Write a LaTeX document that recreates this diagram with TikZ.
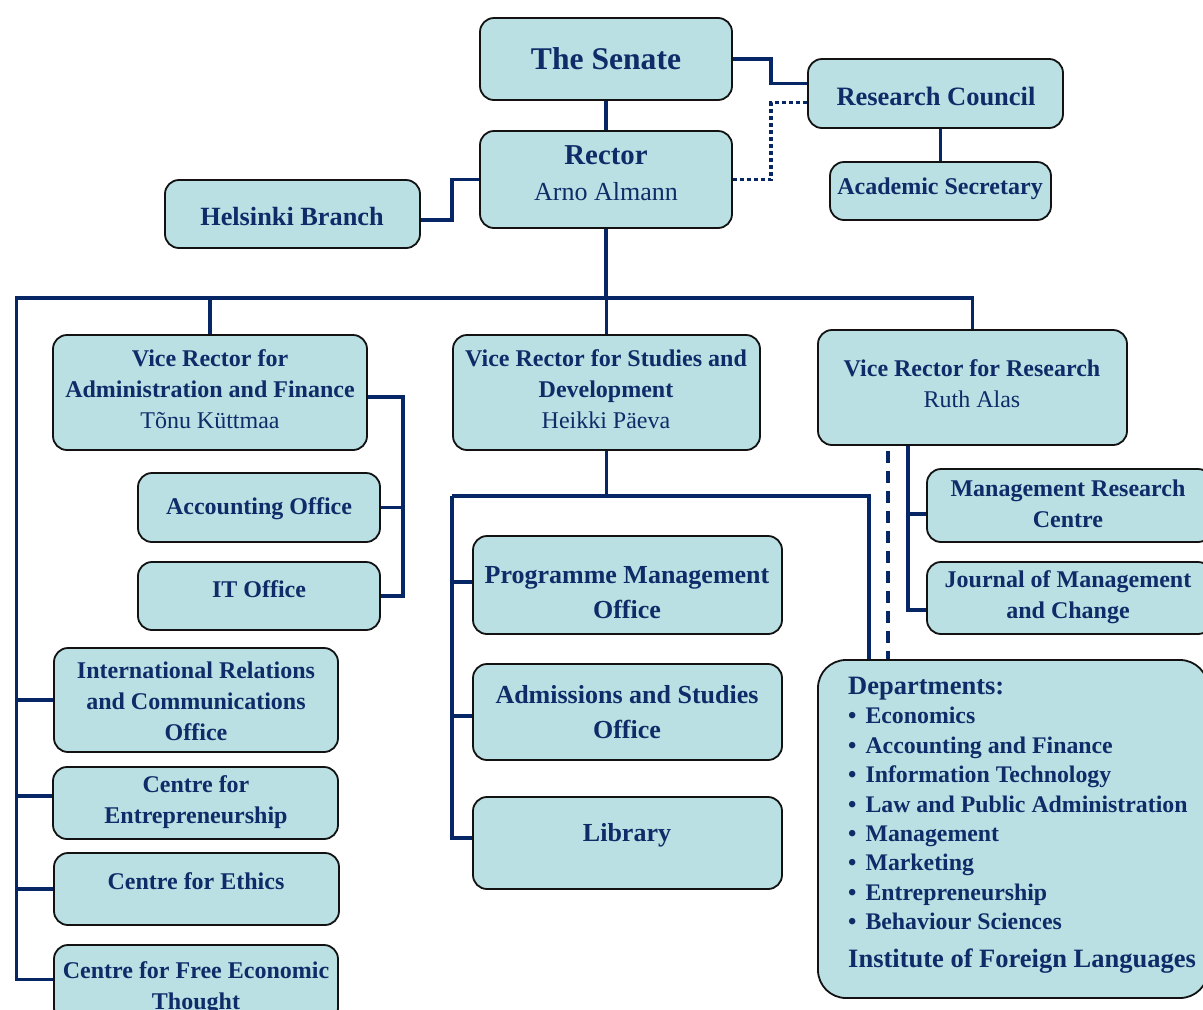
\documentclass[tikz,border=0pt]{standalone}
\usepackage{fontspec}
\setmainfont{Liberation Serif}
\usetikzlibrary{fit}
\definecolor{boxfill}{HTML}{BAE0E3}
\definecolor{navy}{HTML}{072666}
\definecolor{txtc}{HTML}{0F2B68}
\definecolor{edgec}{HTML}{121212}
\newcommand{\orgbox}[5]{\node[box, fit={(#2,#3) (#4,#5)}] (#1) {};}
\newcommand{\blt}{\textbullet\hspace{9pt}}
\begin{document}
\begin{tikzpicture}[x=1pt,y=-1pt,
  box/.style={draw=edgec, line width=1.8pt, fill=boxfill, rounded corners=14pt, inner sep=0pt},
  conn/.style={draw=navy, line width=3.8pt},
  dotconn/.style={conn, line width=3.4pt, dash pattern=on 4pt off 3pt},
  dashconn/.style={conn, dash pattern=on 12pt off 8pt},
  lbl/.style={text=txtc, align=center, inner sep=0pt, font=\fontsize{24}{31}\selectfont\bfseries},
  lblbig/.style={lbl, font=\fontsize{26}{35}\selectfont\bfseries},
]
\fill[white] (0,0) rectangle (1203,1010);
\useasboundingbox (0,0) rectangle (1203,1010);

% boxes
\orgbox{senate}{480}{18}{732}{100}
\orgbox{rc}{808}{59}{1063}{128}
\orgbox{rector}{480}{131}{732}{228}
\orgbox{acs}{830}{162}{1051}{220}
\orgbox{hel}{165}{180}{420}{248}
\orgbox{vra}{53}{335}{367}{450}
\orgbox{vrs}{453}{335}{760}{450}
\orgbox{vrr}{818}{330}{1127}{445}
\orgbox{acc}{138}{473}{380}{542}
\orgbox{it}{138}{562}{380}{630}
\orgbox{intl}{54}{648}{338}{752}
\orgbox{cent}{53}{767}{338}{839}
\orgbox{eth}{54}{853}{339}{925}
\orgbox{cfet}{54}{945}{338}{1022}
\orgbox{pmo}{473}{536}{782}{634}
\orgbox{adm}{473}{664}{782}{760}
\orgbox{lib}{473}{797}{782}{889}
\orgbox{mrc}{927}{469}{1212}{542}
\orgbox{jmc}{927}{562}{1212}{634}
\node[box, rounded corners=28pt, fit={(818,660) (1208,998)}] (dept) {};

% texts
\node[lbl, font=\fontsize{31.6}{36}\selectfont\bfseries] (senateT) at (606,59) {The Senate};
\node[lbl, font=\fontsize{26.5}{30}\selectfont\bfseries] (rcT) at (936,96) {Research Council};
\node[lbl, font=\fontsize{28.8}{32}\selectfont\bfseries] (rectorT) at (606,155) {Rector};
\node[lbl, font=\fontsize{26}{30}\selectfont] (rectorN) at (606,192) {Arno Almann};
\node[lbl] (acsT) at (940,189) {Academic Secretary};
\node[lbl, font=\fontsize{26.3}{30}\selectfont\bfseries] (helT) at (292,216) {Helsinki Branch};
\node[lbl] (vraT) at (210,389) {Vice Rector for\\Administration and Finance\\\mdseries Tõnu Küttmaa};
\node[lbl] (vrsT) at (606,389) {Vice Rector for Studies and\\Development\\\mdseries Heikki Päeva};
\node[lbl] (vrrT) at (972,384) {Vice Rector for Research\\\mdseries Ruth Alas};
\node[lbl] (accT) at (259,509) {Accounting Office};
\node[lbl] (itT) at (259,589) {IT Office};
\node[lbl] (intlT) at (196,701) {International Relations\\and Communications\\Office};
\node[lbl] (centT) at (196,802) {Centre for\\Entrepreneurship};
\node[lbl] (ethT) at (196,881) {Centre for Ethics};
\node[lbl] (cfetT) at (196,988) {Centre for Free Economic\\Thought};
\node[lblbig] (pmoT) at (627,593) {Programme Management\\Office};
\node[lblbig] (admT) at (627,712) {Admissions and Studies\\Office};
\node[lblbig] (libT) at (627,835) {Library};
\node[lbl] (mrcT) at (1068,504) {Management Research\\Centre};
\node[lbl] (jmcT) at (1068,597) {Journal of Management\\and Change};
\node[text=txtc, align=left, inner sep=0pt, anchor=north west,
      font=\fontsize{23.8}{29.4}\selectfont\bfseries] (deptT) at (848,677)
  {{\fontsize{26.5}{29.4}\selectfont Departments:}\\
   \blt Economics\\
   \blt Accounting and Finance\\
   \blt Information Technology\\
   \blt Law and Public Administration\\
   \blt Management\\
   \blt Marketing\\
   \blt Entrepreneurship\\
   \blt Behaviour Sciences\\[8pt]
   {\fontsize{26.5}{29.4}\selectfont Institute of Foreign Languages}};

% connectors: top
\draw[conn] (senate.south) -- (rector.north);
\draw[conn] (senate.east) -- ++(38,0) |- ([yshift=10pt]rc.west);
\draw[dotconn] (rector.east) -- ++(38,0) |- ([yshift=-9pt]rc.west);
\draw[conn] (acs.north |- rc.south) -- (acs.north);
\draw[conn] ([yshift=-6pt]hel.east) -- ++(31,0) |- (rector.west);

% main bus
\coordinate (busL) at (15,298);
\coordinate (busR) at (974,298);
\draw[conn] (rector.south) -- (rector.south |- busL);
\draw[conn] (busL) -- (busR);
\draw[conn] (vra.north |- busL) -- (vra.north);
\draw[conn] (vrs.north |- busL) -- (vrs.north);
\draw[conn] (vrr.north |- busL) -- (vrr.north);

% left trunk
\draw[conn] ([xshift=1.5pt]busL) |- ([yshift=4pt]cfet.west);
\draw[conn] (intl.west) -- ++(-37.5,0);
\draw[conn] ([yshift=7pt]cent.west) -- ++(-36.5,0);
\draw[conn] (eth.west) -- ++(-37.5,0);

% admin branch
\draw[conn] ([yshift=-4.5pt]vra.east) -- ++(35,0) coordinate (admx) |- (it.east);
\draw[conn] (acc.east) -- (acc.east -| admx);

% studies branch
\coordinate (sbusL) at (452,496);
\coordinate (sbusR) at (869,496);
\draw[conn] (vrs.south) -- (vrs.south |- sbusL);
\draw[conn] (sbusL) -- (sbusR) -- (sbusR |- dept.north);
\draw[conn] (sbusL) |- ([yshift=5pt]lib.west);
\draw[conn] ([yshift=3pt]pmo.west) -- ++(-21,0);
\draw[conn] ([yshift=-4pt]adm.west) -- ++(-21,0);

% research branch
\coordinate (rx) at (908,0);
\coordinate (dx) at (888,0);
\draw[conn] (vrr.south -| rx) |- ([yshift=-12pt]jmc.west);
\draw[conn] ([yshift=-8.5pt]mrc.west) -- ++(-19,0);
\draw[dashconn] ([yshift=-5pt]vrr.south -| dx) -- (dept.north -| dx);
\end{tikzpicture}
\end{document}
